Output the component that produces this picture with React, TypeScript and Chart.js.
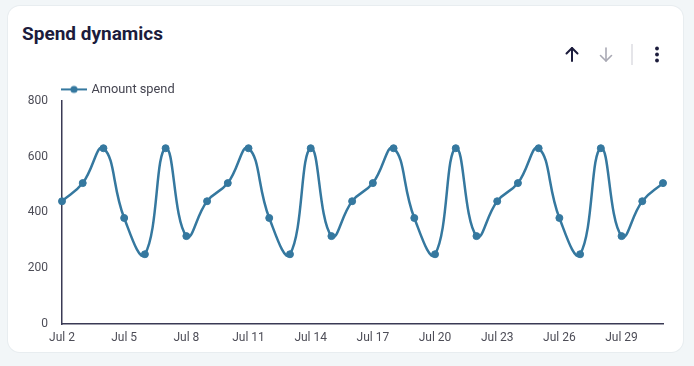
import React, { useEffect, useRef } from "react";
import { Chart, registerables } from "chart.js";

Chart.register(...registerables);

const categories: string[] = [
  "Jul 2", "Jul 3", "Jul 4", "Jul 5", "Jul 6", "Jul 7", "Jul 8", "Jul 9", "Jul 10", "Jul 11",
  "Jul 12", "Jul 13", "Jul 14", "Jul 15", "Jul 16", "Jul 17", "Jul 18", "Jul 19", "Jul 20", "Jul 21",
  "Jul 22", "Jul 23", "Jul 24", "Jul 25", "Jul 26", "Jul 27", "Jul 28", "Jul 29", "Jul 30", "Jul 31",
];
const amountSpend: number[] = [
  440, 505, 630, 380, 250, 630, 315,
  440, 505, 630, 380, 250, 630, 315,
  440, 505, 630, 380, 250, 630, 315,
  440, 505, 630, 380, 250, 630, 315,
  440, 505,
];
const seriesName = "Amount spend";
const yTicks: number[] = [0, 200, 400, 600, 800];

const LINE = "#35789f";
const AXIS = "#3a3a55";
const TICK = "#4d4d57";

function makeLegendIcon(width: number, offset: number): HTMLCanvasElement {
  const c = document.createElement("canvas");
  c.width = width;
  c.height = 10;
  const ctx = c.getContext("2d")!;
  ctx.strokeStyle = LINE;
  ctx.lineWidth = 2;
  ctx.beginPath();
  ctx.moveTo(offset, 5);
  ctx.lineTo(width, 5);
  ctx.stroke();
  ctx.fillStyle = LINE;
  ctx.beginPath();
  ctx.arc((offset + width) / 2, 5, 3.6, 0, Math.PI * 2);
  ctx.fill();
  return c;
}

export default function App() {
  const ref = useRef<HTMLCanvasElement>(null);

  useEffect(() => {
    document.body.style.margin = "0";
    const legendPad = 5;
    const icon = makeLegendIcon(84, 58);
    const legendShift = {
      id: "legendShift",
      afterLayout(chart: any) {
        if (chart.legend) {
          chart.legend.top += 5;
          chart.legend.bottom += 5;
        }
      },
    };
    const chart = new Chart(ref.current!, {
      type: "line",
      data: {
        labels: categories,
        datasets: [
          {
            label: seriesName,
            data: amountSpend,
            borderColor: LINE,
            backgroundColor: LINE,
            borderWidth: 2.5,
            pointRadius: 3.5,
            pointBorderWidth: 1,
            pointBackgroundColor: LINE,
            pointBorderColor: LINE,
            tension: 0.45,
            fill: false,
          },
        ],
      },
      options: {
        responsive: false,
        animation: false,
        devicePixelRatio: 1,
        layout: { padding: { left: 0, right: 31, top: 0, bottom: 0 } },
        plugins: {
          title: { display: false },
          tooltip: { enabled: false },
          legend: {
            display: true,
            position: "top",
            align: "start",
            labels: {
              padding: legendPad,
              usePointStyle: true,
              pointStyleWidth: 80,
              boxHeight: 10,
              color: "#444450",
              font: { family: "Roboto", size: 12.8 },
              generateLabels: (ch: any) => {
                const base = Chart.defaults.plugins.legend.labels.generateLabels(ch);
                return base.map((l: any) => ({ ...l, pointStyle: icon, lineWidth: 0 }));
              },
            },
          },
        },
        scales: {
          x: {
            type: "category",
            offset: false,
            grid: { display: false, drawTicks: false },
            border: { display: true, color: AXIS, width: 1.5 },
            ticks: {
              autoSkip: false,
              maxRotation: 0,
              minRotation: 0,
              padding: 7,
              color: TICK,
              font: { family: "Roboto", size: 12 },
              callback: (_v: any, i: number) => (i % 3 === 0 ? categories[i] : ""),
            },
            afterFit: (s: any) => {
              s.height = 36;
            },
          },
          y: {
            min: 0,
            max: 800,
            grid: { display: false, drawTicks: false },
            border: { display: true, color: AXIS, width: 1.5 },
            afterBuildTicks: (s: any) => {
              s.ticks = yTicks.map((v) => ({ value: v }));
            },
            ticks: {
              padding: 14,
              color: TICK,
              font: { family: "Roboto", size: 12 },
            },
            afterFit: (s: any) => {
              s.width = 62;
            },
          },
        },
      },
      plugins: [legendShift],
    });
    return () => chart.destroy();
  }, []);

  return (
    <div
      style={{
        position: "fixed",
        left: 0,
        top: 0,
        width: 694,
        height: 366,
        background: "#f2f6f8",
        overflow: "hidden",
      }}
    >
      <div
        style={{
          position: "absolute",
          left: 8,
          top: 6,
          width: 675,
          height: 346,
          background: "#ffffff",
          borderRadius: 12,
          boxShadow: "0 0 0 1px #e8edf0",
        }}
      />
      <div
        style={{
          position: "absolute",
          left: 22,
          top: 24,
          fontFamily: "Roboto",
          fontWeight: 700,
          fontSize: 19,
          lineHeight: "20px",
          color: "#1c1c3c",
        }}
      >
        Spend dynamics
      </div>
      <svg style={{ position: "absolute", left: 560, top: 42 }} width={110} height={26}>
        <g stroke="#1c1c3c" strokeWidth={2} fill="none" strokeLinecap="round" strokeLinejoin="round">
          <line x1={12} y1={6} x2={12} y2={19} />
          <polyline points="6.5,11.5 12,6 17.5,11.5" />
        </g>
        <g stroke="#a9a9b4" strokeWidth={1.6} fill="none" strokeLinecap="round" strokeLinejoin="round">
          <line x1={46} y1={6} x2={46} y2={19} />
          <polyline points="40.5,13.5 46,19 51.5,13.5" />
        </g>
        <line x1={72} y1={2} x2={72} y2={23} stroke="#dcdce2" strokeWidth={1.5} />
        <g fill="#1c1c3c">
          <circle cx={97} cy={6.5} r={1.9} />
          <circle cx={97} cy={12.5} r={1.9} />
          <circle cx={97} cy={18.5} r={1.9} />
        </g>
      </svg>
      <canvas
        ref={ref}
        width={694}
        height={287}
        style={{ position: "absolute", left: 0, top: 73, width: 694, height: 287 }}
      />
    </div>
  );
}
